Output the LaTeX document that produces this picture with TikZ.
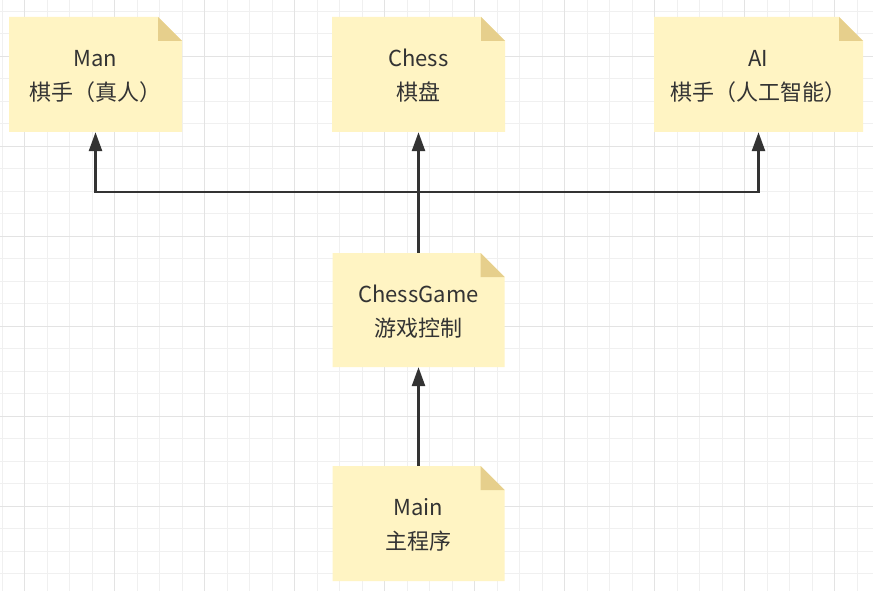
\documentclass[tikz,border=0pt]{standalone}
\usepackage{fontspec}
\setmainfont{Noto Sans CJK SC}
\usetikzlibrary{arrows.meta}
\definecolor{notefill}{HTML}{FFF4C3}
\definecolor{foldfill}{HTML}{E6CF8C}
\definecolor{txt}{HTML}{333333}
\definecolor{gridminor}{HTML}{F0F0F0}
\definecolor{gridmajor}{HTML}{E3E3E3}
\tikzset{
  note/.style={inner sep=0pt, minimum height=115pt,
    path picture={
      \fill[notefill] (path picture bounding box.south west) -- (path picture bounding box.north west)
        -- ([xshift=-24pt]path picture bounding box.north east) -- ([yshift=-24pt]path picture bounding box.north east)
        -- (path picture bounding box.south east) -- cycle;
      \fill[foldfill] ([xshift=-24pt]path picture bounding box.north east) -- ([xshift=-24pt,yshift=-24pt]path picture bounding box.north east)
        -- ([yshift=-24pt]path picture bounding box.north east) -- cycle;
    }},
  notetext/.style={align=center, text=txt, inner sep=0pt, yshift=-1.5pt,
    font=\fontsize{22}{34}\selectfont},
  conn/.style={draw=txt, line width=2.6pt, -{Triangle[length=19pt,width=13pt]}}
}
\begin{document}
\begin{tikzpicture}[x=1pt,y=-1pt]
\fill[white] (0,0) rectangle (873,591);
\useasboundingbox (0,0) rectangle (873,591);
% grid
\foreach \i in {0,...,38} {\draw[gridminor, line width=1pt] ({2.2+22.5*\i},0) -- ({2.2+22.5*\i},591);}
\foreach \i in {0,...,26} {\draw[gridminor, line width=1pt] (0,{11.3+22.5*\i}) -- (873,{11.3+22.5*\i});}
\foreach \i in {0,...,9} {\draw[gridmajor, line width=1pt] ({24.7+90*\i},0) -- ({24.7+90*\i},591);}
\foreach \i in {0,...,6} {\draw[gridmajor, line width=1pt] (0,{56.3+90*\i}) -- (873,{56.3+90*\i});}
% notes
\node[note, minimum width=173pt, label={[notetext]center:Man\\棋手（真人）}] (man) at (95.5,74.5) {};
\node[note, minimum width=173pt, label={[notetext]center:Chess\\棋盘}] (chess) at (418.5,74.5) {};
\node[note, minimum width=209pt, label={[notetext]center:AI\\棋手（人工智能）}] (ai) at (758.5,74.5) {};
\node[note, minimum width=172pt, minimum height=114pt, label={[notetext]center:ChessGame\\游戏控制}] (game) at (418.5,310) {};
\node[note, minimum width=172pt, label={[notetext]center:Main\\主程序}] (main) at (418.5,523.5) {};
% connectors
\coordinate (j) at (418.5,192);
\draw[conn] (game.north) -- (chess.south);
\draw[conn] (j) -| (man.south);
\draw[conn] (j) -| (ai.south);
\draw[conn] (main.north) -- (game.south);
\end{tikzpicture}
\end{document}
